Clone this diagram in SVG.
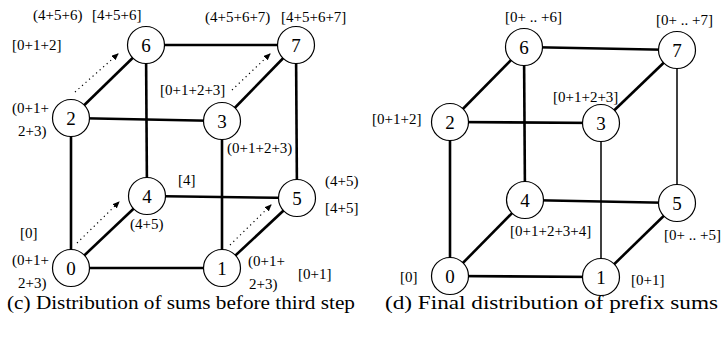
<svg xmlns="http://www.w3.org/2000/svg" width="727" height="349" viewBox="0 0 727 349">
<defs>
<marker id="ah" markerWidth="7" markerHeight="6" refX="6" refY="3" orient="auto" markerUnits="userSpaceOnUse">
<path d="M0,0 L7,3 L0,6 Z" fill="#000"/>
</marker>
<style>
.e{stroke:#000;stroke-width:2.6;fill:none}
.t{stroke:#000;stroke-width:1.5;fill:none}
.d{stroke:#000;stroke-width:1.2;stroke-dasharray:1.2 3.5;fill:none}
.n circle{fill:#fff;stroke:#000;stroke-width:1.2}
.n text{font-family:"Liberation Serif",serif;font-size:19px;text-anchor:middle}
.l{font-family:"Liberation Serif",serif;font-size:15px}
.c{font-family:"Liberation Serif",serif;font-size:19px}
</style>
</defs>
<rect width="727" height="349" fill="#fff"/>
<g id="connectors">
<line class="e" x1="71" y1="268" x2="222" y2="268"/>
<line class="e" x1="71" y1="268" x2="71" y2="118"/>
<line class="e" x1="71" y1="268" x2="147" y2="196"/>
<line class="e" x1="222" y1="268" x2="222" y2="121"/>
<line class="e" x1="222" y1="268" x2="297" y2="198"/>
<line class="e" x1="71" y1="118" x2="222" y2="121"/>
<line class="e" x1="71" y1="118" x2="146" y2="45"/>
<line class="e" x1="222" y1="121" x2="296" y2="45"/>
<line class="e" x1="147" y1="196" x2="297" y2="198"/>
<line class="e" x1="147" y1="196" x2="146" y2="45"/>
<line class="e" x1="297" y1="198" x2="296" y2="45"/>
<line class="e" x1="146" y1="45" x2="296" y2="45"/>
<path class="d" d="M77,243 L119,202" marker-end="url(#ah)"/>
<path class="d" d="M230,245 L271,205" marker-end="url(#ah)"/>
<path class="d" d="M75,92 L118,54" marker-end="url(#ah)"/>
<path class="d" d="M232,90 L270,54" marker-end="url(#ah)"/>
<line class="e" x1="450" y1="276" x2="601" y2="277"/>
<line class="e" x1="450" y1="276" x2="450" y2="122"/>
<line class="e" x1="450" y1="276" x2="525" y2="200"/>
<line class="t" x1="601" y1="277" x2="601" y2="123"/>
<line class="e" x1="601" y1="277" x2="677" y2="203"/>
<line class="e" x1="450" y1="122" x2="601" y2="123"/>
<line class="e" x1="450" y1="122" x2="524" y2="47"/>
<line class="e" x1="601" y1="123" x2="677" y2="50"/>
<line class="e" x1="525" y1="200" x2="677" y2="203"/>
<line class="e" x1="525" y1="200" x2="524" y2="47"/>
<line class="t" x1="677" y1="203" x2="677" y2="50"/>
<line class="e" x1="524" y1="47" x2="677" y2="50"/>
</g>
<g id="L0" class="n"><circle cx="71" cy="268" r="18.5"/><text x="71" y="274.5">0</text></g>
<g id="L1" class="n"><circle cx="222" cy="268" r="18.5"/><text x="222" y="274.5">1</text></g>
<g id="L2" class="n"><circle cx="71" cy="118" r="18.5"/><text x="71" y="124.5">2</text></g>
<g id="L3" class="n"><circle cx="222" cy="121" r="18.5"/><text x="222" y="127.5">3</text></g>
<g id="L4" class="n"><circle cx="147" cy="196" r="18.5"/><text x="147" y="202.5">4</text></g>
<g id="L5" class="n"><circle cx="297" cy="198" r="18.5"/><text x="297" y="204.5">5</text></g>
<g id="L6" class="n"><circle cx="146" cy="45" r="18.5"/><text x="146" y="51.5">6</text></g>
<g id="L7" class="n"><circle cx="296" cy="45" r="18.5"/><text x="296" y="51.5">7</text></g>
<g id="R0" class="n"><circle cx="450" cy="276" r="18.5"/><text x="450" y="282.5">0</text></g>
<g id="R1" class="n"><circle cx="601" cy="277" r="18.5"/><text x="601" y="283.5">1</text></g>
<g id="R2" class="n"><circle cx="450" cy="122" r="18.5"/><text x="450" y="128.5">2</text></g>
<g id="R3" class="n"><circle cx="601" cy="123" r="18.5"/><text x="601" y="129.5">3</text></g>
<g id="R4" class="n"><circle cx="525" cy="200" r="18.5"/><text x="525" y="206.5">4</text></g>
<g id="R5" class="n"><circle cx="677" cy="203" r="18.5"/><text x="677" y="209.5">5</text></g>
<g id="R6" class="n"><circle cx="524" cy="47" r="18.5"/><text x="524" y="53.5">6</text></g>
<g id="R7" class="n"><circle cx="677" cy="50" r="18.5"/><text x="677" y="56.5">7</text></g>
<g id="labels">
<text class="l" x="33" y="20">(4+5+6)</text>
<text class="l" x="92" y="20">[4+5+6]</text>
<text class="l" x="205" y="22">(4+5+6+7)</text>
<text class="l" x="281" y="22">[4+5+6+7]</text>
<text class="l" x="12" y="50">[0+1+2]</text>
<text class="l" x="160" y="95">[0+1+2+3]</text>
<text class="l" x="12" y="113">(0+1+</text>
<text class="l" x="18" y="136">2+3)</text>
<text class="l" x="227" y="153">(0+1+2+3)</text>
<text class="l" x="178" y="185">[4]</text>
<text class="l" x="325" y="186">(4+5)</text>
<text class="l" x="325" y="213">[4+5]</text>
<text class="l" x="130" y="229">(4+5)</text>
<text class="l" x="20" y="238">[0]</text>
<text class="l" x="12" y="265">(0+1+</text>
<text class="l" x="18" y="288">2+3)</text>
<text class="l" x="248" y="266">(0+1+</text>
<text class="l" x="249" y="289">2+3)</text>
<text class="l" x="298" y="279">[0+1]</text>
<text class="c" x="7" y="309" textLength="348" lengthAdjust="spacingAndGlyphs">(c)  Distribution of sums before third step</text>
<text class="l" x="505" y="22">[0+ .. +6]</text>
<text class="l" x="656" y="25">[0+ .. +7]</text>
<text class="l" x="553" y="102">[0+1+2+3]</text>
<text class="l" x="372" y="124">[0+1+2]</text>
<text class="l" x="510" y="236">[0+1+2+3+4]</text>
<text class="l" x="664" y="240">[0+ .. +5]</text>
<text class="l" x="400" y="282">[0]</text>
<text class="l" x="631" y="285">[0+1]</text>
<text class="c" x="385" y="309" textLength="333" lengthAdjust="spacingAndGlyphs">(d)  Final distribution of prefix sums</text>
</g>
</svg>
